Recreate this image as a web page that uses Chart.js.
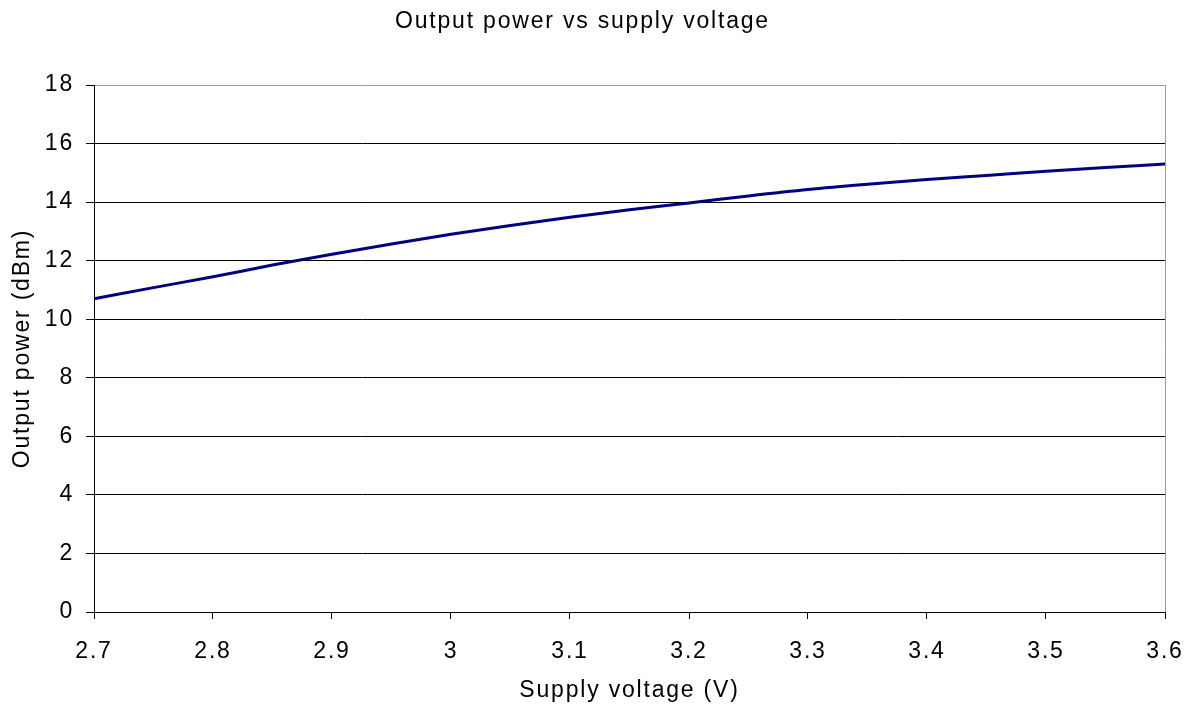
<!DOCTYPE html>
<html>
<head>
<meta charset="utf-8">
<script src="https://cdn.jsdelivr.net/npm/chart.js@4/dist/chart.umd.min.js"></script>
<style>
html,body{margin:0;padding:0;background:#fff;}
#wrap{width:1197px;height:711px;}
</style>
</head>
<body>
<div id="wrap"><canvas id="c" width="1197" height="711"></canvas></div>
<script>
const voltages = [2.70,2.75,2.80,2.85,2.90,2.95,3.00,3.05,3.10,3.15,3.20,3.25,3.30,3.35,3.40,3.45,3.50,3.55,3.60];
const outputPower = [10.70,11.08,11.45,11.85,12.22,12.57,12.90,13.20,13.48,13.74,13.97,14.21,14.43,14.61,14.77,14.91,15.05,15.18,15.30];
const xTicks = [2.7,2.8,2.9,3.0,3.1,3.2,3.3,3.4,3.5,3.6];
const xTickLabels = ['2.7','2.8','2.9','3','3.1','3.2','3.3','3.4','3.5','3.6'];
const yTicks = [0,2,4,6,8,10,12,14,16,18];
const yTickLabels = ['0','2','4','6','8','10','12','14','16','18'];

const FONT = "'Liberation Sans', Arial, sans-serif";
const SPACING = '1.8px';
const spacingPlugin = {
  id: 'spacing',
  beforeInit(chart){ chart.ctx.letterSpacing = SPACING; },
  beforeLayout(chart){ chart.ctx.letterSpacing = SPACING; },
  beforeDraw(chart){ chart.ctx.letterSpacing = SPACING; }
};

new Chart(document.getElementById('c'), {
  type: 'line',
  data: {
    datasets: [{
      data: voltages.map((v,i)=>({x:v, y:outputPower[i]})),
      borderColor: '#000080',
      borderWidth: 3,
      pointRadius: 0,
      cubicInterpolationMode: 'monotone',
      fill: false
    }]
  },
  plugins: [spacingPlugin],
  options: {
    responsive: false,
    animation: false,
    layout: { padding: { left: 0, right: 32, top: 0, bottom: 0 } },
    plugins: {
      legend: { display: false },
      tooltip: { enabled: false },
      title: {
        display: true,
        text: 'Output power vs supply voltage',
        color: '#000',
        font: { family: FONT, size: 23, weight: 'normal' },
        padding: { top: 8, bottom: 49.4 }
      }
    },
    scales: {
      x: {
        type: 'linear',
        min: 2.7, max: 3.6,
        afterBuildTicks(s){ s.ticks = xTicks.map(v=>({value:v})); },
        afterFit(s){ s.height = 99; s.paddingRight = 0; s.paddingLeft = 0; },
        ticks: {
          color: '#000',
          font: { family: FONT, size: 23 },
          padding: 19,
          maxRotation: 0,
          autoSkip: false,
          callback: (v, i) => xTickLabels[i]
        },
        grid: {
          drawOnChartArea: true,
          color: (ctx) => ctx.index === xTicks.length - 1 ? '#999' : 'rgba(0,0,0,0)',
          tickColor: '#000',
          tickLength: 7,
          lineWidth: 1
        },
        border: { display: true, color: '#000', width: 1 },
        title: {
          display: true,
          text: 'Supply voltage (V)',
          color: '#000',
          font: { family: FONT, size: 23 },
          padding: { top: 0, bottom: 7 }
        }
      },
      y: {
        type: 'linear',
        min: 0, max: 18,
        afterBuildTicks(s){ s.ticks = yTicks.map(v=>({value:v})); },
        afterFit(s){ s.width = 94; s.paddingTop = 0; s.paddingBottom = 0; },
        ticks: {
          color: '#000',
          font: { family: FONT, size: 23 },
          padding: 12,
          autoSkip: false,
          callback: (v, i) => yTickLabels[i]
        },
        grid: {
          color: (ctx) => ctx.index === yTicks.length - 1 ? '#999' : '#000',
          tickColor: '#000',
          tickLength: 8,
          lineWidth: 1
        },
        border: { display: true, color: '#000', width: 1 },
        title: {
          display: true,
          text: 'Output power (dBm)',
          color: '#000',
          font: { family: FONT, size: 23 },
          padding: { top: 9, bottom: 0 }
        }
      }
    }
  }
});
</script>
</body>
</html>
